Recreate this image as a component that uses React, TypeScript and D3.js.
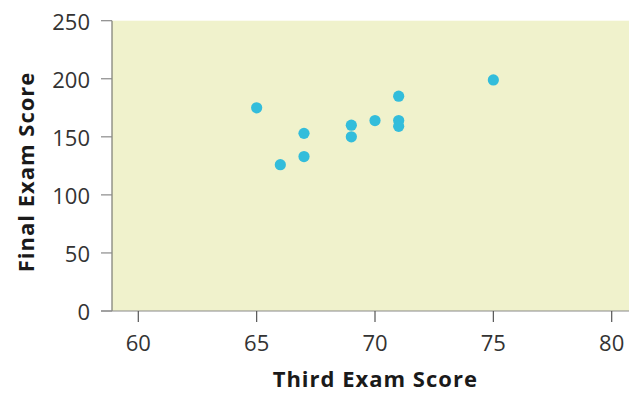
import React from "react";
import * as d3 from "d3";

const thirdExam = [65, 66, 67, 67, 69, 69, 70, 71, 71, 71, 75];
const finalExam = [175, 126, 153, 133, 160, 150, 164, 185, 164, 159, 199];
const xTicks = [60, 65, 70, 75, 80];
const yTicks = [0, 50, 100, 150, 200, 250];
const xTitle = "Third Exam Score";
const yTitle = "Final Exam Score";

const W = 629;
const H = 394;
const left = 112;
const top = 20.7;
const bottom = 311;

export default function App() {
  const x = d3.scaleLinear().domain([60, 80]).range([138.3, 611.7]);
  const y = d3.scaleLinear().domain([0, 250]).range([bottom, top]);
  const points = thirdExam.map((v, i) => ({ x: v, y: finalExam[i] }));
  const font = "'Open Sans', sans-serif";
  return (
    <svg
      width={W}
      height={H}
      style={{ position: "absolute", left: 0, top: 0, background: "#fff" }}
    >
      <rect x={left} y={top} width={W - left} height={bottom - top} fill="#f0f2cc" />
      {/* y axis */}
      <line x1={left} x2={left} y1={top} y2={bottom} stroke="#7a7a72" strokeWidth={1.2} />
      {yTicks.map((t) => (
        <g key={"y" + t}>
          <line x1={101} x2={left} y1={y(t)} y2={y(t)} stroke="#8a8a8a" strokeWidth={1.2} />
          <text
            x={90}
            y={y(t)}
            textAnchor="end"
            dominantBaseline="central"
            fontFamily={font}
            fontSize={22}
            fill="#333"
          >
            {t}
          </text>
        </g>
      ))}
      {/* x axis */}
      <line x1={101} x2={W} y1={bottom} y2={bottom} stroke="#8a8a8a" strokeWidth={1.2} />
      {xTicks.map((t) => (
        <g key={"x" + t}>
          <line x1={x(t)} x2={x(t)} y1={bottom} y2={322} stroke="#555" strokeWidth={1.2} />
          <text
            x={x(t)}
            y={351}
            textAnchor="middle"
            fontFamily={font}
            fontSize={22}
            fill="#333"
          >
            {t}
          </text>
        </g>
      ))}
      {points.map((p, i) => (
        <circle key={i} cx={x(p.x)} cy={y(p.y)} r={5.6} fill="#33bddb" />
      ))}
      <text
        x={375.3}
        y={387}
        textAnchor="middle"
        fontFamily={font}
        fontWeight="bold"
        fontSize={22}
        letterSpacing={1}
        fill="#1a1a1a"
      >
        {xTitle}
      </text>
      <text
        transform={`translate(33.5,172) rotate(-90)`}
        textAnchor="middle"
        fontFamily={font}
        fontWeight="bold"
        fontSize={22}
        letterSpacing={1}
        fill="#1a1a1a"
      >
        {yTitle}
      </text>
    </svg>
  );
}
